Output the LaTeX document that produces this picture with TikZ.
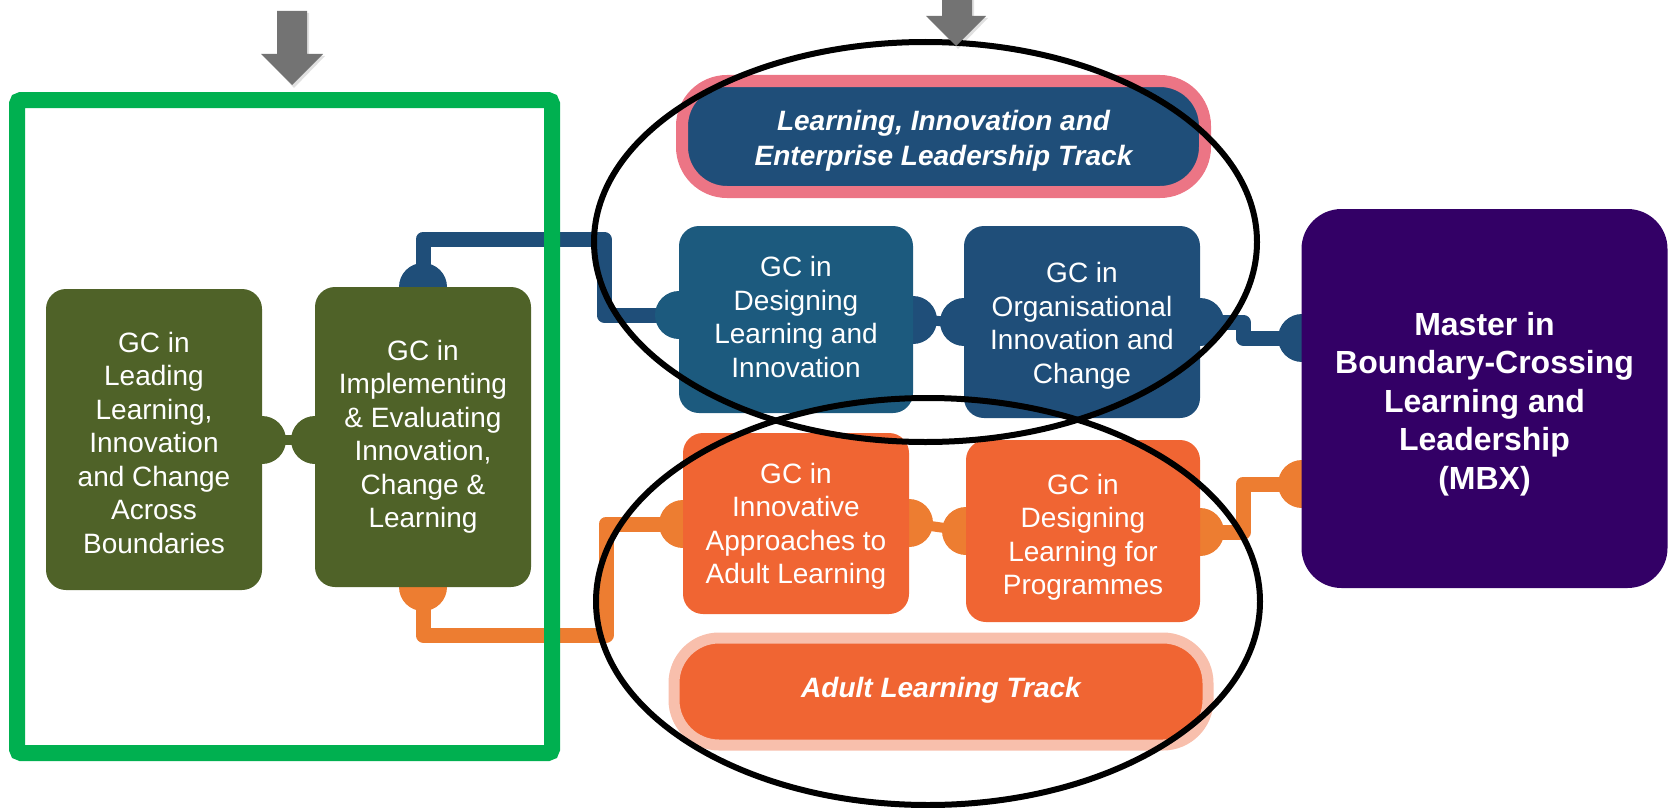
\documentclass[tikz,border=0pt]{standalone}
\usepackage{fontspec}
\setmainfont{Liberation Sans}
\definecolor{olivebox}{HTML}{4F6228}
\definecolor{framegreen}{HTML}{00B050}
\definecolor{blueline}{HTML}{1F4E79}
\definecolor{bluebox}{HTML}{1F4E79}
\definecolor{bluebox2}{HTML}{1C5A7E}
\definecolor{trackpink}{HTML}{EC7585}
\definecolor{orangebox}{HTML}{F06533}
\definecolor{orangeline}{HTML}{ED7D31}
\definecolor{orangelight}{HTML}{F8BFAC}
\definecolor{mbxpurple}{HTML}{330066}
\definecolor{arrowgray}{HTML}{737373}
\tikzset{
  gcbox/.style={rounded corners=20pt, inner sep=0pt},
  gctext/.style={inner sep=0pt, align=center, text=white,
    font=\fontsize{28}{33.5}\selectfont},
  mbxtext/.style={inner sep=0pt, align=center, text=white,
    font=\fontsize{32}{38.5}\selectfont\bfseries},
  trackbox/.style={rounded corners=45pt, inner sep=0pt},
  tracktext/.style={inner sep=0pt, align=center, text=white,
    font=\fontsize{28}{35}\selectfont\bfseries\itshape},
  knob/.style={circle, inner sep=0pt, minimum size=48pt},
  conn/.style={line width=15pt, line join=round},
  neck/.style={line width=10pt},
  ring/.style={draw=black, line width=6pt},
  downarrow/.style={fill=arrowgray},
  arrowshadow/.style={fill=black, opacity=0.12}
}
\begin{document}
\begin{tikzpicture}[x=1pt,y=-1pt]
\useasboundingbox (0,0) rectangle (1676,808);

% knob coordinates
\coordinate (kleade) at (262,440);
\coordinate (kimplw) at (315,440);
\coordinate (kimpln) at (423,287);
\coordinate (kimpls) at (423,587);
\coordinate (kdesw) at (679,315);
\coordinate (kdese) at (913,320);
\coordinate (korgw) at (964,322);
\coordinate (korge) at (1200,322);
\coordinate (kinnw) at (683,524);
\coordinate (kinne) at (909,523);
\coordinate (kprogw) at (966,531);
\coordinate (kproge) at (1200,532);
\coordinate (kmbxb) at (1302,338);
\coordinate (kmbxo) at (1302,484);
\coordinate (bj1) at (604,239);
\coordinate (bj2) at (1243,338);
\coordinate (oj1) at (606,635);
\coordinate (oj2) at (1243,484);

% connectors
\draw[conn, blueline] (kimpln) |- (bj1) |- (kdesw);
\draw[conn, blueline] (korge) -| (bj2) -- (kmbxb);
\draw[conn, orangeline] (kimpls) |- (oj1) |- (kinnw);
\draw[conn, orangeline] (kproge) -| (oj2) -- (kmbxo);
\draw[neck, olivebox] (kleade) -- (kimplw);
\draw[neck, blueline] (kdese) -- (korgw);
\draw[neck, orangeline] (kinne) -- (kprogw);

% knobs
\node[knob, fill=olivebox] (n1) at (kleade) {};
\node[knob, fill=olivebox] (n2) at (kimplw) {};
\node[knob, fill=blueline] (n3) at (kimpln) {};
\node[knob, fill=orangeline] (n4) at (kimpls) {};
\node[knob, fill=bluebox2] (n5) at (kdesw) {};
\node[knob, fill=blueline] (n6) at (kdese) {};
\node[knob, fill=blueline] (n7) at (korgw) {};
\node[knob, fill=blueline] (n8) at (korge) {};
\node[knob, fill=orangeline] (n9) at (kinnw) {};
\node[knob, fill=orangeline] (n10) at (kinne) {};
\node[knob, fill=orangeline] (n11) at (kprogw) {};
\node[knob, fill=orangeline] (n12) at (kproge) {};
\node[knob, fill=blueline] (n13) at (kmbxb) {};
\node[knob, fill=orangeline] (n14) at (kmbxo) {};

% boxes
\node[gcbox, fill=olivebox, minimum width=216pt, minimum height=301pt] (lead) at (154,439.5) {};
\node[gctext] (leadtxt) at ([yshift=-3.2pt]lead.center)
  {GC in\\Leading\\Learning,\\Innovation\\and Change\\Across\\Boundaries};
\node[gcbox, fill=olivebox, minimum width=216pt, minimum height=300pt] (impl) at (423,437) {};
\node[gctext] (impltxt) at (impl.center)
  {GC in\\Implementing\\\& Evaluating\\Innovation,\\Change \&\\Learning};
\node[gcbox, fill=bluebox2, minimum width=234pt, minimum height=187pt] (des) at (796,319.5) {};
\node[gctext] (destxt) at ([yshift=2.7pt]des.center)
  {GC in\\Designing\\Learning and\\Innovation};
\node[gcbox, fill=bluebox, minimum width=236pt, minimum height=192pt] (org) at (1082,322) {};
\node[gctext] (orgtxt) at ([yshift=-3.7pt]org.center)
  {GC in\\Organisational\\Innovation and\\Change};
\node[gcbox, fill=orangebox, minimum width=226pt, minimum height=181pt] (inn) at (796,523.5) {};
\node[gctext] (inntxt) at ([yshift=-3pt]inn.center)
  {GC in\\Innovative\\Approaches to\\Adult Learning};
\node[gcbox, fill=orangebox, minimum width=234pt, minimum height=182pt] (prog) at (1083,531) {};
\node[gctext] (progtxt) at ([yshift=-6.4pt]prog.center)
  {GC in\\Designing\\Learning for\\Programmes};
\node[gcbox, rounded corners=40pt, fill=mbxpurple, minimum width=366pt, minimum height=379pt] (mbx) at (1484.5,398.5) {};
\node[mbxtext] (mbxtxt) at ([yshift=-5.5pt]mbx.center)
  {Master in\\Boundary-Crossing\\Learning and\\Leadership\\(MBX)};

% track boxes
\node[trackbox, draw=trackpink, line width=12pt, fill=bluebox, minimum width=523pt, minimum height=111pt]
  (lie) at (943.5,136.5) {};
\node[tracktext] (lietxt) at ([yshift=-4.3pt]lie.center) {Learning, Innovation and\\Enterprise Leadership Track};
\node[trackbox, draw=orangelight, line width=11pt, fill=orangebox, minimum width=534pt, minimum height=107pt]
  (alt) at (941,691.5) {};
\node[tracktext] (alttxt) at ([yshift=1pt]alt.center) {Adult Learning Track};

% green frame
\draw[framegreen, line width=16pt, rounded corners=4pt] (17,100) rectangle (552,753);

% ellipses
\draw[ring] (925.5,242) ellipse [x radius=331.5pt, y radius=200pt];
\draw[ring] (928,601.5) ellipse [x radius=332pt, y radius=203.5pt];

% gray arrows
\fill[arrowshadow] (279,13) -- (309,13) -- (309,56) -- (325,56) -- (294,88) -- (264,56) -- (279,56) -- cycle;
\fill[downarrow] (277,11) -- (307,11) -- (307,54) -- (323,54) -- (292,85) -- (261,54) -- (277,54) -- cycle;
\fill[arrowshadow] (944,-5) -- (974,-5) -- (974,18) -- (988,18) -- (958,49) -- (928,18) -- (944,18) -- cycle;
\fill[downarrow] (942,-5) -- (972,-5) -- (972,16) -- (986,16) -- (956,46) -- (926,16) -- (942,16) -- cycle;
\end{tikzpicture}
\end{document}
